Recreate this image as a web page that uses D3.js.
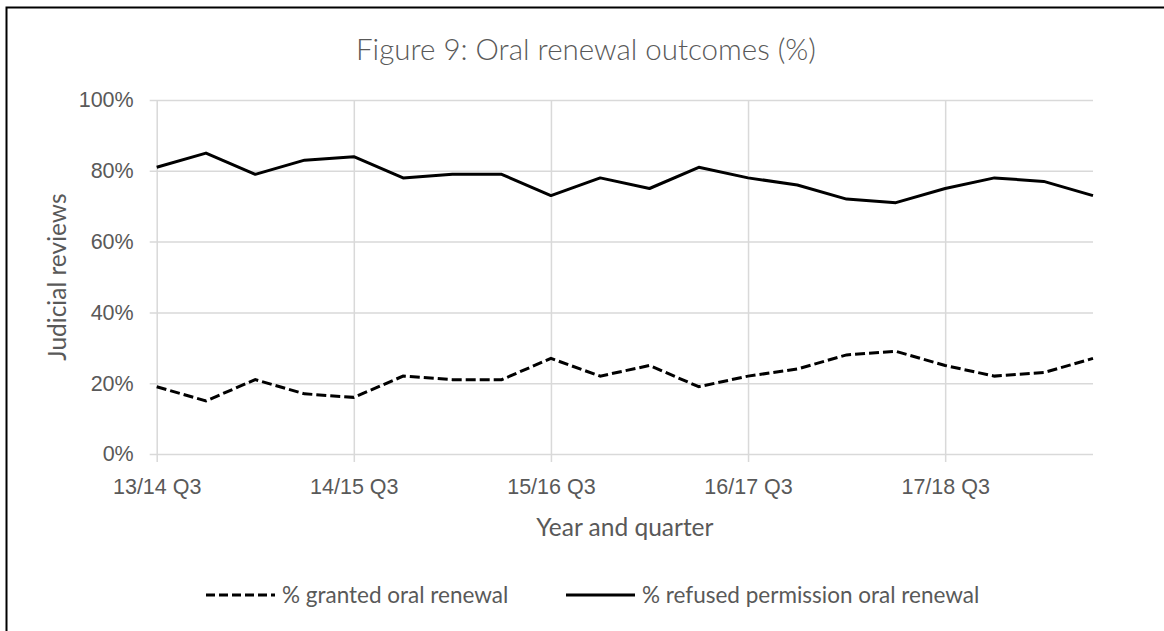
<!DOCTYPE html>
<html>
<head>
<meta charset="utf-8">
<script src="https://cdn.jsdelivr.net/npm/d3@7"></script>
<style>
  body { margin: 0; background: #fff; }
  svg { display: block; font-family: Lato, 'Open Sans', sans-serif; }
  .axis text { fill: #595959; font-size: 21.5px; }
  .axis path { display: none; }
  .axis line { stroke: #d9d9d9; stroke-width: 1.5px; }
</style>
</head>
<body>
<svg id="chart" width="1164" height="631"></svg>
<script>
'use strict';

// quarters, 13/14 Q3 to 18/19 Q2
const quarters = [
    '13/14 Q3', '13/14 Q4', '14/15 Q1', '14/15 Q2',
    '14/15 Q3', '14/15 Q4', '15/16 Q1', '15/16 Q2',
    '15/16 Q3', '15/16 Q4', '16/17 Q1', '16/17 Q2',
    '16/17 Q3', '16/17 Q4', '17/18 Q1', '17/18 Q2',
    '17/18 Q3', '17/18 Q4', '18/19 Q1', '18/19 Q2'
];
const labelQuarters = ['13/14 Q3', '14/15 Q3', '15/16 Q3', '16/17 Q3', '17/18 Q3'];
const granted = [19, 15, 21, 17, 16, 22, 21, 21, 27, 22, 25, 19, 22, 24, 28, 29, 25, 22, 23, 27];
const refused = [81, 85, 79, 83, 84, 78, 79, 79, 73, 78, 75, 81, 78, 76, 72, 71, 75, 78, 77, 73];
const yTicks = [0, 20, 40, 60, 80, 100];

const svg = d3.select('#chart');
const plotLeft = 156.7, plotRight = 1093, plotTop = 100, plotBottom = 454;

// frame round the whole chart area (right and bottom edges fall off the picture)
svg.append('rect')
    .attr('x', 6.5).attr('y', 7.5)
    .attr('width', 1300).attr('height', 800)
    .attr('fill', 'none').attr('stroke', '#000').attr('stroke-width', 2);

const x = d3.scalePoint().domain(quarters).range([plotLeft, plotRight]);
const y = d3.scaleLinear().domain([0, 100]).range([plotBottom, plotTop]);

// horizontal gridlines + y labels
svg.append('g')
    .attr('class', 'axis')
    .attr('transform', 'translate(' + plotRight + ',0)')
    .call(d3.axisLeft(y).tickValues(yTicks).tickSize(plotRight - plotLeft + 7).tickPadding(16)
        .tickFormat(d => d + '%'));

// vertical gridlines + x labels
svg.append('g')
    .attr('class', 'axis')
    .attr('transform', 'translate(0,' + plotTop + ')')
    .call(d3.axisBottom(x).tickValues(labelQuarters).tickSize(plotBottom - plotTop + 8).tickPadding(17));

const line = d3.line()
    .x((d, i) => x(quarters[i]))
    .y(d => y(d));

svg.append('path')
    .datum(refused)
    .attr('d', line)
    .attr('fill', 'none').attr('stroke', '#000').attr('stroke-width', 3)
    .attr('stroke-linejoin', 'round');

svg.append('path')
    .datum(granted)
    .attr('d', line)
    .attr('fill', 'none').attr('stroke', '#000').attr('stroke-width', 3)
    .attr('stroke-dasharray', '10,4');

// title
svg.append('text')
    .attr('x', 586).attr('y', 60)
    .attr('text-anchor', 'middle')
    .attr('fill', '#595959')
    .style('font-size', '29.5px')
    .style('font-weight', 300)
    .text('Figure 9: Oral renewal outcomes (%)');

// axis titles
svg.append('text')
    .attr('x', (plotLeft + plotRight) / 2).attr('y', 536)
    .attr('text-anchor', 'middle')
    .attr('fill', '#595959')
    .style('font-size', '24.5px')
    .text('Year and quarter');

svg.append('text')
    .attr('transform', 'translate(66,277) rotate(-90)')
    .attr('text-anchor', 'middle')
    .attr('fill', '#595959')
    .style('font-size', '24.5px')
    .text('Judicial reviews');

// legend
const legend = [
    {name: '% granted oral renewal', dash: '9,4', x: 206},
    {name: '% refused permission oral renewal', dash: null, x: 566}
];
legend.forEach((d) => {
    svg.append('line')
        .attr('x1', d.x).attr('x2', d.x + 69)
        .attr('y1', 595).attr('y2', 595)
        .attr('stroke', '#000').attr('stroke-width', 3)
        .attr('stroke-dasharray', d.dash);
    svg.append('text')
        .attr('x', d.x + 76).attr('y', 603)
        .attr('fill', '#595959')
        .style('font-size', '22.5px')
        .text(d.name);
});
</script>
</body>
</html>
